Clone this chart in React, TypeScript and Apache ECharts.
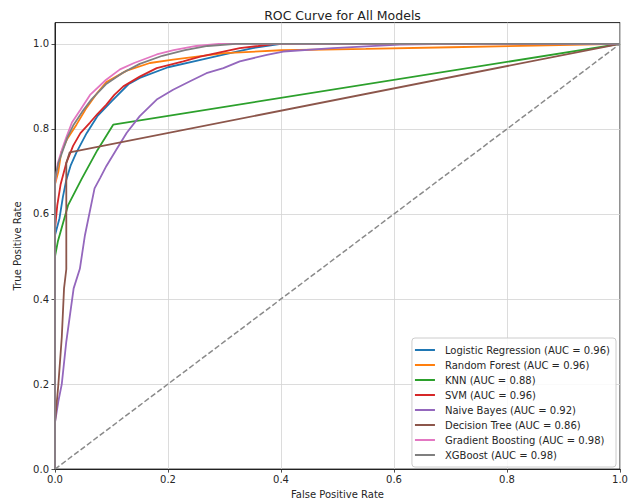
import React, { useEffect, useRef } from "react";
import * as echarts from "echarts";

// ---- Data ----
const lrFpr = [0, 0, 0.008, 0.014, 0.02, 0.028, 0.038, 0.056, 0.075, 0.1, 0.13, 0.15, 0.2, 0.25, 0.3, 0.35, 0.4, 1];
const lrTpr = [0, 0.55, 0.59, 0.64, 0.68, 0.715, 0.745, 0.79, 0.83, 0.865, 0.905, 0.92, 0.945, 0.96, 0.975, 0.99, 1, 1];

const rfFpr = [0, 0, 0.006, 0.011, 0.021, 0.038, 0.056, 0.075, 0.091, 0.127, 0.168, 0.209, 0.251, 0.3, 0.4, 0.55, 0.7, 0.85, 1];
const rfTpr = [0, 0.67, 0.7, 0.745, 0.775, 0.81, 0.85, 0.885, 0.91, 0.937, 0.955, 0.963, 0.97, 0.978, 0.985, 0.988, 0.992, 0.996, 1];

const knnFpr = [0, 0, 0.005, 0.023, 0.047, 0.075, 0.103, 1];
const knnTpr = [0, 0.5, 0.535, 0.62, 0.682, 0.75, 0.81, 1];

const svmFpr = [0, 0, 0.004, 0.01, 0.02, 0.032, 0.045, 0.062, 0.075, 0.091, 0.105, 0.121, 0.15, 0.18, 0.227, 0.257, 0.298, 0.327, 0.36, 0.39, 1];
const svmTpr = [0, 0.565, 0.62, 0.67, 0.72, 0.76, 0.79, 0.815, 0.835, 0.857, 0.88, 0.9, 0.923, 0.943, 0.959, 0.97, 0.982, 0.99, 0.995, 1, 1];

const nbFpr = [0, 0, 0.006, 0.012, 0.02, 0.033, 0.044, 0.053, 0.07, 0.08, 0.091, 0.109, 0.127, 0.15, 0.18, 0.209, 0.239, 0.268, 0.298, 0.327, 0.375, 0.404, 0.492, 0.61, 0.7, 1];
const nbTpr = [0, 0.11, 0.16, 0.2, 0.3, 0.425, 0.471, 0.55, 0.66, 0.685, 0.713, 0.752, 0.791, 0.83, 0.869, 0.892, 0.912, 0.931, 0.943, 0.959, 0.974, 0.982, 0.99, 0.998, 1, 1];

const dtFpr = [0, 0, 0.006, 0.012, 0.016, 0.02, 0.02, 0.026, 1];
const dtTpr = [0, 0.11, 0.2, 0.31, 0.425, 0.47, 0.72, 0.745, 1];

const gbFpr = [0, 0, 0.005, 0.012, 0.02, 0.03, 0.045, 0.062, 0.09, 0.115, 0.14, 0.18, 0.21, 0.25, 0.29, 1];
const gbTpr = [0, 0.67, 0.72, 0.75, 0.78, 0.815, 0.845, 0.88, 0.915, 0.94, 0.955, 0.975, 0.985, 0.995, 1, 1];

const xgbFpr = [0, 0, 0.006, 0.014, 0.022, 0.033, 0.048, 0.065, 0.09, 0.12, 0.15, 0.19, 0.23, 0.27, 0.32, 1];
const xgbTpr = [0, 0.68, 0.72, 0.75, 0.78, 0.81, 0.84, 0.87, 0.905, 0.932, 0.953, 0.972, 0.985, 0.995, 1, 1];

const diagFpr = [0, 1];
const diagTpr = [0, 1];

const modelNames = [
  "Logistic Regression",
  "Random Forest",
  "KNN",
  "SVM",
  "Naive Bayes",
  "Decision Tree",
  "Gradient Boosting",
  "XGBoost",
];
const modelAuc = [0.96, 0.96, 0.88, 0.96, 0.92, 0.86, 0.98, 0.98];
const modelFpr = [lrFpr, rfFpr, knnFpr, svmFpr, nbFpr, dtFpr, gbFpr, xgbFpr];
const modelTpr = [lrTpr, rfTpr, knnTpr, svmTpr, nbTpr, dtTpr, gbTpr, xgbTpr];

const tickValues = [0, 0.2, 0.4, 0.6, 0.8, 1.0];

// ---- Styles ----
const colors = ["#1f77b4", "#ff7f0e", "#2ca02c", "#d62728", "#9467bd", "#8c564b", "#e377c2", "#7f7f7f"];
const FONT = "DejaVu Sans";
const TXT = "#262626";
const LEGEND_ICON = "path://M0,0 L20,0 L20,2 L0,2 Z";

export default function App() {
  const ref = useRef<HTMLDivElement>(null);

  useEffect(() => {
    if (!ref.current) return;
    const chart = echarts.init(ref.current, null, { renderer: "svg" });

    const legendNames = modelNames.map((n, i) => `${n} (AUC = ${modelAuc[i].toFixed(2)})`);

    const series: any[] = modelNames.map((_, i) => ({
      name: legendNames[i],
      type: "line",
      data: modelFpr[i].map((x, k) => [x, modelTpr[i][k]]),
      symbol: "none",
      showSymbol: false,
      smooth: false,
      silent: true,
      lineStyle: { color: colors[i], width: 1.8 },
      itemStyle: { color: colors[i] },
      z: 3 + i,
    }));
    series.push({
      name: "diag",
      type: "line",
      data: diagFpr.map((x, k) => [x, diagTpr[k]]),
      symbol: "none",
      silent: true,
      lineStyle: { color: "#8a8a8a", width: 1.5, type: [5.5, 2.5] },
      z: 12,
    });

    const axisCommon = {
      type: "value" as const,
      axisLine: { show: true, onZero: false, lineStyle: { color: "#222", width: 1 } },
      axisTick: { show: true, inside: false, length: 3.5, lineStyle: { color: "#222", width: 0.8 } },
      splitLine: { show: true, lineStyle: { color: "#d3d3d3", width: 0.8 } },
      nameLocation: "middle" as const,
      nameTextStyle: { fontFamily: FONT, fontSize: 10, color: TXT },
    };

    chart.setOption({
      animation: false,
      backgroundColor: "#ffffff",
      title: {
        text: "ROC Curve for All Models",
        left: 337.5,
        top: 4,
        textAlign: "center",
        textStyle: { fontFamily: FONT, fontSize: 12.5, fontWeight: "normal", color: "#222" },
      },
      grid: {
        left: 55,
        right: 16,
        top: 22.6,
        bottom: 32.5,
        show: true,
        borderColor: "#222",
        borderWidth: 1,
        backgroundColor: "transparent",
      },
      xAxis: {
        ...axisCommon,
        min: 0,
        max: 1,
        interval: 0.2,
        name: "False Positive Rate",
        nameGap: 17,
        axisLabel: {
          margin: 5,
          fontFamily: FONT,
          fontSize: 10,
          color: TXT,
          formatter: (v: number) => v.toFixed(1),
        },
      },
      yAxis: {
        ...axisCommon,
        min: 0,
        max: 1.05,
        interval: 0.2,
        name: "True Positive Rate",
        nameGap: 23,
        axisTick: { ...axisCommon.axisTick, customValues: tickValues },
        axisLabel: {
          margin: 6,
          fontFamily: FONT,
          fontSize: 10,
          color: TXT,
          customValues: tickValues,
          formatter: (v: number) => (v > 1.001 ? "" : v.toFixed(1)),
        },
      },
      legend: {
        orient: "vertical",
        right: 20,
        bottom: 37,
        data: legendNames.map((n) => ({ name: n, icon: LEGEND_ICON })),
        backgroundColor: "rgba(255,255,255,0.85)",
        borderColor: "#cccccc",
        borderWidth: 1,
        borderRadius: 3,
        padding: [6, 6, 6, 3],
        itemWidth: 20,
        itemHeight: 2,
        itemGap: 3,
        selectedMode: false,
        textStyle: { fontFamily: FONT, fontSize: 10, color: TXT, lineHeight: 12, padding: [0, 0, 0, 5] },
      },
      series,
    });

    return () => {
      chart.dispose();
    };
  }, []);

  return (
    <div
      ref={ref}
      style={{ position: "fixed", left: 0, top: 0, width: 636, height: 504, background: "#fff" }}
    />
  );
}
